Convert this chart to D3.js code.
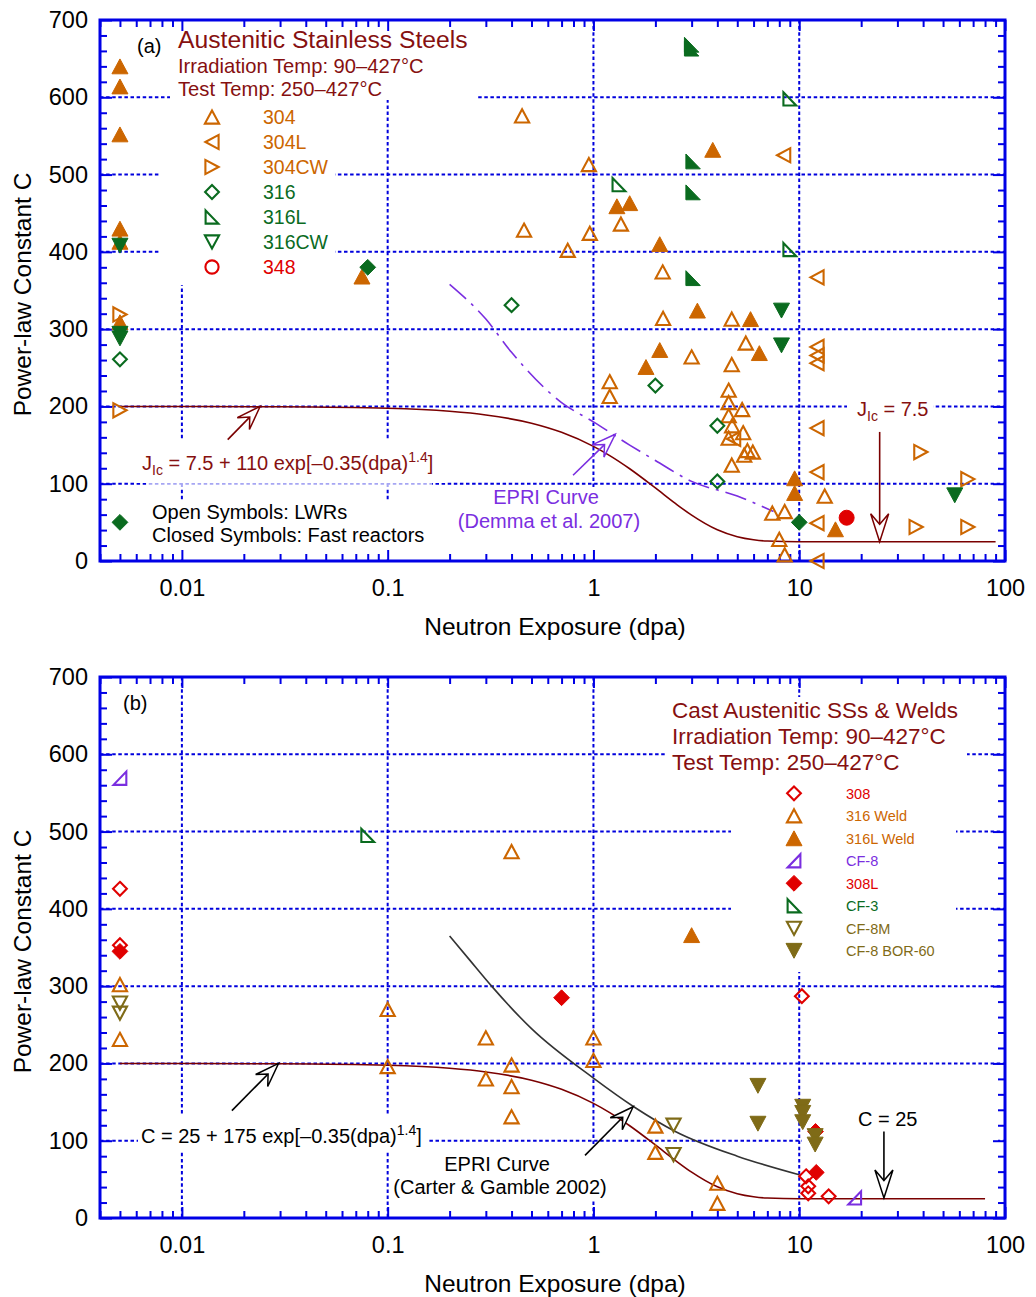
<!DOCTYPE html>
<html><head><meta charset="utf-8">
<script src="https://cdn.jsdelivr.net/npm/d3@7/dist/d3.min.js"></script>
<style>
body{margin:0;background:#fff}
svg{display:block}
text{font-family:"Liberation Sans",Arial,Helvetica,sans-serif}
</style>
</head><body>
<script>
// ================= DATA: panel (a) =================
// [dpa, C]   open symbols = LWRs, filled = fast reactors
const a304   = [[0.45,576],[0.46,428],[0.95,513],[0.96,424],[0.75,402],[1.36,436],[2.17,374],[2.18,314],
                [4.7,313],[5.5,282],[3.0,264],[4.7,254],[1.2,232],[1.2,213],[4.54,221],[4.54,205],[5.28,196],
                [4.54,188],[4.72,175],[5.34,166],[4.54,159],[5.4,137],[5.6,143],[5.95,141],[4.7,124],
                [13.3,84],[7.4,62],[8.5,64],[8.0,28],[8.5,8]];
const a304L  = [[8.4,525],[12.2,367],[12.2,277],[12.2,266],[12.2,256],[12.2,172],[12.2,115],[12.2,49],[12.2,0],[4.8,158]];
const a304CW = [[0.005,319],[0.005,195],[39,141],[66,106],[37,44],[66,44]];
const a316   = [[0.005,261],[0.4,331],[2.0,227],[4.0,175],[4.0,103]];
const a316L  = [[9,598],[1.33,487],[9,403]];
const a316CW = [];
const a348   = [];
const a304F  = [[0.005,640],[0.005,614],[0.005,552],[0.005,430],[0.005,413],[0.005,309],[0.075,368],[3.8,532],
                [1.3,459],[1.5,463],[2.1,410],[3.2,324],[5.8,313],[2.1,273],[6.4,269],[1.8,251],[9.5,107],[9.5,88],[15,41]];
const a316F  = [[0.08,380],[0.005,50],[10,50]];
const a316LF = [[3.0,668],[3.0,663],[3.05,517],[3.05,477],[3.05,366]];
const a316CWF= [[0.005,408],[0.005,294],[0.005,288],[8.2,324],[8.2,279],[57,85]];
const a348F  = [[17,56]];
const aLegendLabels = ["304","304L","304CW","316","316L","316CW","348"];

// ================= DATA: panel (b) =================
const b308    = [[0.005,426],[0.005,353],[10.3,287],[10.8,54],[11.06,41],[11.06,32],[13.9,28]];
const b316W   = [[0.005,302],[0.005,231],[0.1,270],[0.1,196],[0.4,474],[0.3,233],[1.0,233],[1.0,204],[0.4,198],
                 [0.3,180],[0.4,170],[0.4,131],[2.0,119],[2.0,85],[4.0,45],[4.0,19]];
const b316LW  = [[3.0,366]];
const bCF8    = [[0.005,569],[18.6,26]];
const b308L   = [[0.005,345],[0.7,285],[12.1,59],[12.0,112]];
const bCF3    = [[0.08,495]];
const bCF8M   = [[0.005,278],[0.005,265],[2.45,120],[2.45,82]];
const bCF8BOR = [[6.3,171],[6.3,122],[10.4,144],[10.4,136],[10.4,124],[11.95,106],[11.95,95]];
const bLegendLabels = ["308","316 Weld","316L Weld","CF-8","308L","CF-3","CF-8M","CF-8 BOR-60"];

// ================= DATA: curves =================
// C = 25 + 175 exp[-0.35 (dpa)^1.4]
const fitDpa = [0.005,0.01,0.03,0.1,0.2,0.3,0.5,0.7,1,1.2,1.5,2,2.5,3,4,5,6,7,10,20];
const fitC   = [200,199.9,199.5,197.6,193.7,189.0,178.3,166.5,148.3,136.4,119.4,94.5,74.5,59.3,40.3,31.3,27.4,25.8,25,25];
const fitEndA = [90,25];
const fitEndB = [80,25];
// EPRI curve (Demma et al. 2007), panel (a)
const epriADpa = [0.2,0.3,0.4,0.7,1,1.5,2,3,5,7.5];
const epriAC   = [358,313,270,205,180,150,130,103,84,64];
// EPRI curve (Carter & Gamble 2002), panel (b)
const epriBDpa = [0.2,0.25,0.32,0.5,1,1.57,2.5,5,10];
const epriBC   = [365,334,300,245,181,144,112,80,56];

// axis ticks
const xMajor = [0.01,0.1,1,10,100];
const xMajorLabels = ["0.01","0.1","1","10","100"];
const xGrid = [0.01,0.1,1,10];
const yMajor = [0,100,200,300,400,500,600,700];
const yGrid = [100,200,300,400,500,600];

// ================= STYLE =================
const BLUE="#0000e6", GRIDC="#0000dd";
const ORANGE="#cc6600", GREEN="#0a6b1f", RED="#e00000", PURPLE="#7a2ee0", OLIVE="#7f6b17", MAROON="#861010";
const FONT = '"Liberation Sans",Arial,Helvetica,sans-serif';

const svg = d3.select("body").append("svg").attr("width",1036).attr("height",1297);

function poly(pts){return {draw(ctx,size){const r=Math.sqrt(size);ctx.moveTo(pts[0][0]*r,pts[0][1]*r);for(let i=1;i<pts.length;i++)ctx.lineTo(pts[i][0]*r,pts[i][1]*r);ctx.closePath();}};}
const SH = {
  up: poly([[0,-0.93],[1,0.93],[-1,0.93]]),
  down: poly([[0,0.93],[1,-0.93],[-1,-0.93]]),
  left: poly([[-0.93,0],[0.93,-1],[0.93,1]]),
  right: poly([[0.93,0],[-0.93,-1],[-0.93,1]]),
  rtL: poly([[-0.9,-0.93],[0.9,0.93],[-0.9,0.93]]),
  rtR: poly([[0.9,-0.93],[0.9,0.93],[-0.9,0.93]]),
  diamond: poly([[0,-1],[1,0],[0,1],[-1,0]]),
  circle: {draw(ctx,size){const r=Math.sqrt(size);ctx.moveTo(r,0);ctx.arc(0,0,r,0,2*Math.PI);}}
};
function symR(shape, filled){
  if(shape==="diamond") return filled?7.9:6.9;
  if(shape==="circle") return filled?7.5:6.6;
  return filled?8.0:7.1;
}
function symbolPath(shape, filled){return d3.symbol().type(SH[shape]).size(symR(shape,filled)**2)();}

function marks(g,x,y,data,shape,color,filled){
  g.append("g").selectAll("path").data(data).join("path")
    .attr("transform",d=>`translate(${x(d[0])},${y(d[1])})`)
    .attr("d",symbolPath(shape,filled))
    .attr("fill",filled?color:"none").attr("stroke",color)
    .attr("stroke-width",filled?1:2.1).attr("stroke-linejoin","miter");
}

function arrow(g,p1,p2,color,L=24,W=8.5){
  const [x1,y1]=p1,[x2,y2]=p2;
  const a=Math.atan2(y2-y1,x2-x1), c=Math.cos(a), s=Math.sin(a);
  const pt=(u,v)=>[x2+u*c-v*s, y2+u*s+v*c];
  const notch=pt(-0.62*L,0);
  g.append("line").attr("x1",x1).attr("y1",y1).attr("x2",notch[0]).attr("y2",notch[1])
    .attr("stroke",color).attr("stroke-width",1.6);
  const head=[pt(0,0),pt(-L,-W),notch,pt(-L,W)];
  g.append("path").attr("d","M"+head.map(p=>p.join(",")).join("L")+"Z")
    .attr("fill","#fff").attr("stroke",color).attr("stroke-width",1.5).attr("stroke-linejoin","miter");
}

function whiteBox(g,x0,y0,x1,y1,op=1){
  g.append("rect").attr("x",x0).attr("y",y0).attr("width",x1-x0).attr("height",y1-y0)
    .attr("fill","#fff").attr("opacity",op);
}

function txt(g,x,y,s,size,color,anchor="start"){
  return g.append("text").attr("x",x).attr("y",y).attr("font-size",size).attr("fill",color)
    .attr("text-anchor",anchor).text(s);
}

function panel(top,bottom,boxes,faint){
  const x=d3.scaleLog().domain([0.004,100]).range([100,1005]);
  const y=d3.scaleLinear().domain([0,700]).range([bottom,top]);
  const g=svg.append("g");
  // grid
  const gg=g.append("g").attr("stroke",GRIDC).attr("stroke-width",2).attr("stroke-dasharray","3.5,2.6");
  gg.selectAll(null).data(xGrid).join("line").attr("x1",d=>x(d)).attr("x2",d=>x(d)).attr("y1",top).attr("y2",bottom);
  gg.selectAll(null).data(yGrid).join("line").attr("y1",d=>y(d)).attr("y2",d=>y(d)).attr("x1",100).attr("x2",1005);
  boxes.forEach(b=>whiteBox(g,...b));
  if(faint) whiteBox(g,...faint,0.65);
  // axes
  const minorX=[];
  for(let e=-3;e<=1;e++)for(let k=2;k<=9;k++){const v=k*Math.pow(10,e);if(v>=0.004&&v<100)minorX.push(v);}
  const minorY=d3.range(0,701,20).filter(v=>v%100!==0);
  const ax=g.append("g");
  const style=sel=>{sel.select(".domain").remove();sel.selectAll(".tick line").attr("stroke",BLUE).attr("stroke-width",2);
    sel.selectAll("text").attr("font-size",23.5).attr("fill","#000").attr("font-family",FONT);};
  ax.append("g").attr("transform",`translate(0,${bottom})`).call(d3.axisBottom(x).tickValues(minorX).tickSize(-7).tickFormat("")).call(style);
  ax.append("g").attr("transform",`translate(0,${bottom})`).call(d3.axisBottom(x).tickValues(xMajor).tickSize(-11).tickPadding(18).tickFormat((d,i)=>xMajorLabels[i])).call(style);
  ax.append("g").attr("transform",`translate(0,${top})`).call(d3.axisTop(x).tickValues(minorX).tickSize(-7).tickFormat("")).call(style);
  ax.append("g").attr("transform",`translate(0,${top})`).call(d3.axisTop(x).tickValues(xMajor).tickSize(-11).tickFormat("")).call(style);
  ax.append("g").attr("transform",`translate(100,0)`).call(d3.axisLeft(y).tickValues(minorY).tickSize(-7).tickFormat("")).call(style);
  ax.append("g").attr("transform",`translate(100,0)`).call(d3.axisLeft(y).tickValues(yMajor).tickSize(-12).tickPadding(12).tickFormat(d3.format("d"))).call(style);
  ax.append("g").attr("transform",`translate(1005,0)`).call(d3.axisRight(y).tickValues(minorY).tickSize(-7).tickFormat("")).call(style);
  ax.append("g").attr("transform",`translate(1005,0)`).call(d3.axisRight(y).tickValues(yMajor).tickSize(-12).tickFormat("")).call(style);
  g.append("rect").attr("x",100).attr("y",top).attr("width",905).attr("height",bottom-top)
    .attr("fill","none").attr("stroke",BLUE).attr("stroke-width",3);
  // axis titles
  g.append("text").attr("transform",`translate(31,${(top+bottom)/2+4}) rotate(-90)`).attr("text-anchor","middle")
    .attr("font-size",24.5).attr("fill","#000").text("Power-law Constant C");
  txt(g,555,bottom+74,"Neutron Exposure (dpa)",24.5,"#000","middle");
  return {g,x,y};
}

const line = (x,y,curve)=>d3.line().x(d=>x(d[0])).y(d=>y(d[1])).curve(curve);

// ================= PANEL (a) =================
{
  const {g,x,y}=panel(20,561,[
      [170,21,476,100],[160,100,335,285],[135,440,445,483],[146,500,432,559.5],
      [455,487,642,559.5],[847,397,933,422]
    ],[146,481,432,487]);
  const fit=fitDpa.map((d,i)=>[d,fitC[i]]).concat([fitEndA]);
  g.append("path").attr("d",line(x,y,d3.curveMonotoneX)(fit)).attr("fill","none").attr("stroke","#7a0000").attr("stroke-width",1.6);
  const ep=epriADpa.map((d,i)=>[d,epriAC[i]]);
  g.append("path").attr("d",line(x,y,d3.curveMonotoneX)(ep)).attr("fill","none").attr("stroke",PURPLE)
    .attr("stroke-width",1.6).attr("stroke-dasharray","22,7,3,7");
  // arrows
  arrow(g,[x(0.0167),y(157)],[x(0.024),y(200)],"#7a0000");
  arrow(g,[x(0.796),y(111)],[x(1.276),y(164)],PURPLE);
  arrow(g,[x(24.6),y(167)],[x(24.6),y(25)],"#7a0000",28,9);
  // points
  marks(g,x,y,a304,"up",ORANGE,false);
  marks(g,x,y,a304L,"left",ORANGE,false);
  marks(g,x,y,a304CW,"right",ORANGE,false);
  marks(g,x,y,a316,"diamond",GREEN,false);
  marks(g,x,y,a316L,"rtL",GREEN,false);
  marks(g,x,y,a316CW,"down",GREEN,false);
  marks(g,x,y,a348,"circle",RED,false);
  marks(g,x,y,a304F,"up",ORANGE,true);
  marks(g,x,y,a316F,"diamond",GREEN,true);
  marks(g,x,y,a316LF,"rtL",GREEN,true);
  marks(g,x,y,a316CWF,"down",GREEN,true);
  marks(g,x,y,a348F,"circle",RED,true);
  // texts
  txt(g,137,53,"(a)",20,"#000");
  txt(g,178,48,"Austenitic Stainless Steels",24.7,MAROON);
  txt(g,178,72.5,"Irradiation Temp: 90–427°C",20.2,MAROON);
  txt(g,178,96,"Test Temp: 250–427°C",20.2,MAROON);
  const legShapes=["up","left","right","diamond","rtL","down","circle"];
  const legCols=[ORANGE,ORANGE,ORANGE,GREEN,GREEN,GREEN,RED];
  aLegendLabels.forEach((lab,i)=>{
    const cy=117+25*i;
    g.append("path").attr("transform",`translate(212,${cy})`).attr("d",symbolPath(legShapes[i],false))
      .attr("fill","none").attr("stroke",legCols[i]).attr("stroke-width",2.1);
    txt(g,263,cy+7,lab,19.5,legCols[i]);
  });
  txt(g,152,519,"Open Symbols: LWRs",20,"#000");
  txt(g,152,542,"Closed Symbols: Fast reactors",20,"#000");
  const f=g.append("text").attr("x",142).attr("y",470).attr("font-size",20).attr("fill",MAROON);
  f.append("tspan").text("J");
  f.append("tspan").attr("font-size",14).attr("dy",5).text("Ic");
  f.append("tspan").attr("dy",-5).text(" = 7.5 + 110 exp[–0.35(dpa)");
  f.append("tspan").attr("font-size",14).attr("dy",-8).text("1.4");
  f.append("tspan").attr("dy",8).text("]");
  const j=g.append("text").attr("x",857).attr("y",416).attr("font-size",20).attr("fill",MAROON);
  j.append("tspan").text("J");
  j.append("tspan").attr("font-size",14).attr("dy",5).text("Ic");
  j.append("tspan").attr("dy",-5).text(" = 7.5");
  txt(g,546,504,"EPRI Curve",20,PURPLE,"middle");
  txt(g,549,528,"(Demma et al. 2007)",20,PURPLE,"middle");
}

// ================= PANEL (b) =================
{
  const {g,x,y}=panel(677,1218,[
      [667,697,967,778],[731,778,956,972],[138,1115,428,1152],[390,1144,612,1200],[802,1100,998,1150]
    ],null);
  const fit=fitDpa.map((d,i)=>[d,fitC[i]]).concat([fitEndB]);
  g.append("path").attr("d",line(x,y,d3.curveMonotoneX)(fit)).attr("fill","none").attr("stroke","#7a0000").attr("stroke-width",1.6);
  const ep=epriBDpa.map((d,i)=>[d,epriBC[i]]);
  g.append("path").attr("d",line(x,y,d3.curveMonotoneX)(ep)).attr("fill","none").attr("stroke","#333").attr("stroke-width",1.6);
  arrow(g,[x(0.0175),y(139)],[x(0.0295),y(200)],"#000");
  arrow(g,[x(0.91),y(81)],[x(1.56),y(144)],"#000");
  arrow(g,[x(25.8),y(112)],[x(25.8),y(26)],"#000",28,9);
  marks(g,x,y,b316W,"up",ORANGE,false);
  marks(g,x,y,bCF8M,"down",OLIVE,false);
  marks(g,x,y,bCF3,"rtL",GREEN,false);
  marks(g,x,y,bCF8,"rtR",PURPLE,false);
  marks(g,x,y,b316LW,"up",ORANGE,true);
  marks(g,x,y,b308L,"diamond",RED,true);
  marks(g,x,y,bCF8BOR,"down",OLIVE,true);
  marks(g,x,y,b308,"diamond",RED,false);
  txt(g,123,710,"(b)",20,"#000");
  txt(g,672,718,"Cast Austenitic SSs & Welds",22.5,MAROON);
  txt(g,672,744,"Irradiation Temp: 90–427°C",22.5,MAROON);
  txt(g,672,769.5,"Test Temp: 250–427°C",22.5,MAROON);
  const legShapes=["diamond","up","up","rtR","diamond","rtL","down","down"];
  const legFill=[false,false,true,false,true,false,false,true];
  const legCols=[RED,ORANGE,ORANGE,PURPLE,RED,GREEN,OLIVE,OLIVE];
  bLegendLabels.forEach((lab,i)=>{
    const cy=793.3+22.5*i;
    g.append("path").attr("transform",`translate(794,${cy})`).attr("d",symbolPath(legShapes[i],legFill[i]))
      .attr("fill",legFill[i]?legCols[i]:"none").attr("stroke",legCols[i]).attr("stroke-width",legFill[i]?1:2.1);
    txt(g,846,cy+5.2,lab,14.5,legCols[i]);
  });
  const f=g.append("text").attr("x",141).attr("y",1143).attr("font-size",20).attr("fill","#000");
  f.append("tspan").text("C = 25 + 175 exp[–0.35(dpa)");
  f.append("tspan").attr("font-size",14).attr("dy",-8).text("1.4");
  f.append("tspan").attr("dy",8).text("]");
  txt(g,497,1171,"EPRI Curve",20,"#000","middle");
  txt(g,500,1194,"(Carter & Gamble 2002)",20,"#000","middle");
  txt(g,858,1125.5,"C = 25",20,"#000");
}
</script>
</body></html>
